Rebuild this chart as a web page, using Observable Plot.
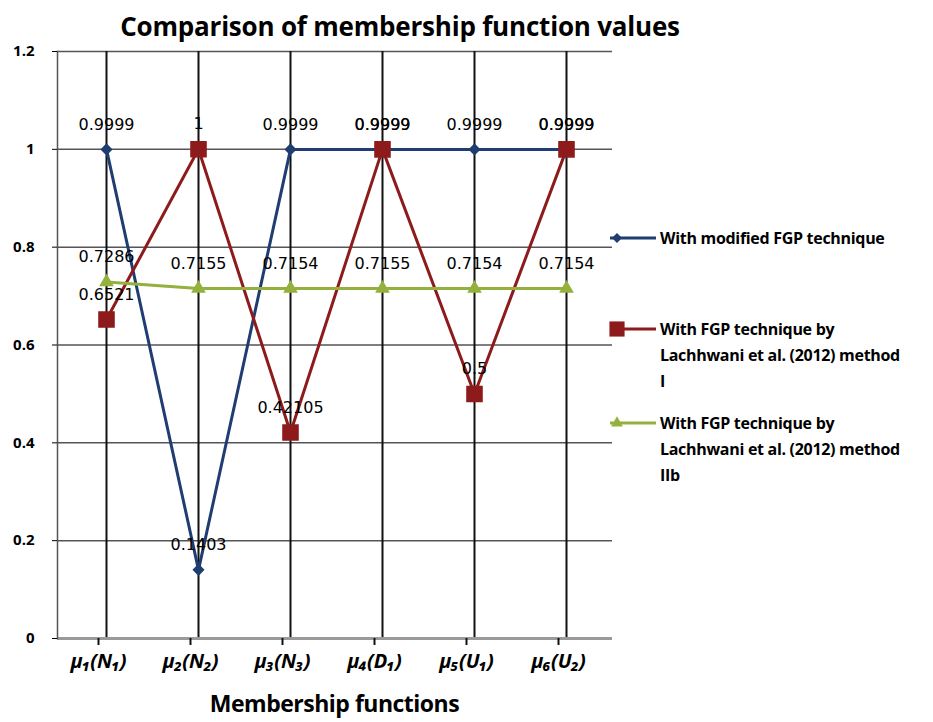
<!DOCTYPE html>
<html>
<head>
<meta charset="utf-8">
<script src="https://cdn.jsdelivr.net/npm/d3@7"></script>
<script src="https://cdn.jsdelivr.net/npm/@observablehq/plot@0.6"></script>
<style>
  body { margin: 0; background: #fff; }
  #wrap { position: relative; width: 933px; height: 722px; background: #fff; font-family: "Open Sans", sans-serif; }
  #chart { position: absolute; left: 0; top: 0; }
  #title { position: absolute; left: 0; width: 800px; top: 8px; text-align: center; font: bold 26px "Open Sans", sans-serif; color: #000; letter-spacing: -0.2px; }
  #xlabel { position: absolute; left: 57px; width: 555px; top: 687px; text-align: center; font: bold 23px "Open Sans", sans-serif; color: #000; letter-spacing: -0.5px; }
  #legend { position: absolute; left: 0; top: 0; pointer-events: none; }
  #chart g[aria-label="x-axis tick label"] text { font-weight: bold; font-style: italic; font-size: 20px; font-family: "Open Sans", sans-serif; }
  #chart g[aria-label="y-axis tick label"] text { font-weight: bold; font-size: 15px; font-family: "Open Sans", sans-serif; }
</style>
</head>
<body>
<div id="wrap">
  <div id="chart"></div>
  <div id="title">Comparison of membership function values</div>
  <div id="xlabel">Membership functions</div>
  <svg id="legend" width="933" height="722"></svg>
</div>
<script>
const categories = ["μ₁(N₁)", "μ₂(N₂)", "μ₃(N₃)", "μ₄(D₁)", "μ₅(U₁)", "μ₆(U₂)"];
const modifiedFGP = [0.9999, 0.1403, 0.9999, 0.9999, 0.9999, 0.9999];
const methodI = [0.6521, 1, 0.42105, 0.9999, 0.5, 0.9999];
const methodIIb = [0.7286, 0.7155, 0.7154, 0.7155, 0.7154, 0.7154];
const yTicks = [0, 0.2, 0.4, 0.6, 0.8, 1, 1.2];
const seriesNames = [
  "With modified FGP technique",
  "With FGP technique by Lachhwani et al. (2012) method I",
  "With FGP technique by Lachhwani et al. (2012) method IIb"
];
const colors = ["#1f3d70", "#8e1b1b", "#93b13c"];

const toRows = (vals) => vals.map((v, i) => ({cat: categories[i], value: v, label: String(v)}));
const s1 = toRows(modifiedFGP), s2 = toRows(methodI), s3 = toRows(methodIIb);

const labelStyle = {x: "cat", y: "value", text: "label", dy: -25, fill: "#000", fontSize: 16, fontFamily: "DejaVu Sans, sans-serif"};

const chart = Plot.plot({
  width: 933,
  height: 722,
  marginTop: 51,
  marginBottom: 84,
  marginLeft: 57,
  marginRight: 321,
  style: {fontFamily: "Open Sans, sans-serif", background: "white", color: "#000"},
  x: {type: "point", domain: categories, range: [105, 566], padding: 0, label: null},
  y: {domain: [0, 1.2], label: null},
  marks: [
    Plot.ruleY(yTicks.filter(d => d > 0), {stroke: "#555", strokeWidth: 1.5}),
    Plot.ruleX(categories, {y1: 0, y2: 1.2, stroke: "#111", strokeWidth: 2}),
    Plot.ruleY([0], {stroke: "#9a9a9a", strokeWidth: 3}),
    Plot.frame({anchor: "left", stroke: "#555", strokeWidth: 1.5}),
    Plot.axisY({ticks: yTicks, tickSize: 5, tickPadding: 18, tickFormat: d => String(d), label: null}),
    Plot.axisX({tickSize: 7, tickPadding: 8, dx: -8, label: null, stroke: "#111", strokeWidth: 2}),
    Plot.line(s1, {x: "cat", y: "value", stroke: colors[0], strokeWidth: 3}),
    Plot.dot(s1, {x: "cat", y: "value", symbol: "diamond2", r: 4.5, fill: colors[0], stroke: colors[0]}),
    Plot.line(s2, {x: "cat", y: "value", stroke: colors[1], strokeWidth: 3}),
    Plot.dot(s2, {x: "cat", y: "value", symbol: "square", r: 8.5, fill: colors[1], stroke: colors[1]}),
    Plot.line(s3, {x: "cat", y: "value", stroke: colors[2], strokeWidth: 3}),
    Plot.dot(s3, {x: "cat", y: "value", symbol: "triangle", r: 4.5, fill: colors[2], stroke: colors[2]}),
    Plot.text(s1, labelStyle),
    Plot.text(s2, labelStyle),
    Plot.text(s3, labelStyle)
  ]
});
document.getElementById("chart").appendChild(chart);

// Legend
const lg = d3.select("#legend");
const entries = [
  {y: 238, lines: ["With modified FGP technique"], sym: d3.symbolSquare, rot: 45, size: 50},
  {y: 329, lines: ["With FGP technique by", "Lachhwani et al. (2012) method", "I"], sym: d3.symbolSquare, rot: 0, size: 230},
  {y: 423, lines: ["With FGP technique by", "Lachhwani et al. (2012) method", "IIb"], sym: d3.symbolTriangle, rot: 0, size: 60}
];
entries.forEach((e, i) => {
  lg.append("line").attr("x1", 610).attr("x2", 656).attr("y1", e.y).attr("y2", e.y)
    .attr("stroke", colors[i]).attr("stroke-width", 3);
  lg.append("path").attr("d", d3.symbol(e.sym, e.size)())
    .attr("transform", `translate(617,${e.y}) rotate(${e.rot})`)
    .attr("fill", colors[i]);
  const t = lg.append("text").attr("font-family", "Open Sans, sans-serif").attr("font-weight", "bold")
    .attr("font-size", 16).attr("fill", "#000").attr("letter-spacing", "-0.3");
  e.lines.forEach((ln, j) => {
    t.append("tspan").attr("x", 660).attr("y", e.y + j * 26).attr("dy", "0.35em").text(ln);
  });
});
</script>
</body>
</html>
